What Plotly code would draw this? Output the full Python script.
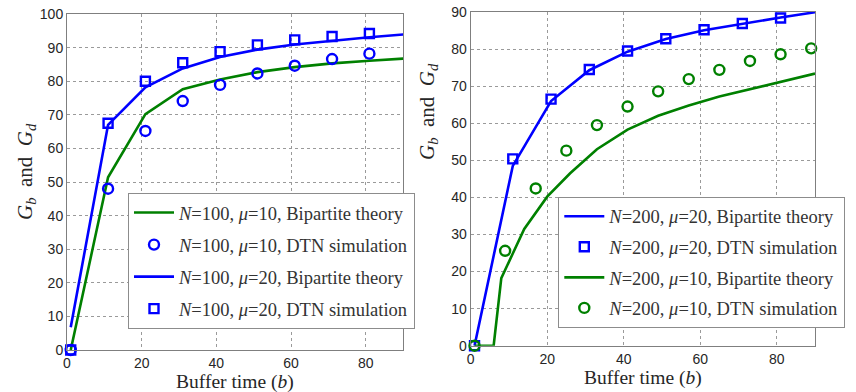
import plotly.graph_objects as go

# ---------------- data ----------------
# Left panel (N=100)
L_theory_x = [1, 11, 21, 31, 41, 51, 61, 71, 81, 91]
L_mu10_theory = [0, 51.4, 70.2, 77.6, 80.5, 82.7, 84.2, 85.3, 86.1, 86.8]
L_mu20_theory = [6.8, 67.0, 78.2, 83.8, 87.2, 89.4, 90.9, 92.1, 93.1, 94.0]
L_sim_x = [1, 11, 21, 31, 41, 51, 61, 71, 81]
L_mu10_sim = [0, 48.0, 65.2, 74.1, 78.9, 82.3, 84.6, 86.6, 88.2]
L_mu20_sim = [0, 67.5, 80.0, 85.5, 88.8, 90.8, 92.3, 93.3, 94.2]

# Right panel (N=200)
R_mu20_theory_x = [1, 11, 21, 31, 41, 51, 61, 71, 81, 91]
R_mu20_theory = [0, 48.5, 66.0, 74.3, 79.3, 82.7, 85.1, 86.9, 88.5, 90.1]
R_mu20_sim_x = [1, 11, 21, 31, 41, 51, 61, 71, 81]
R_mu20_sim = [0, 50.4, 66.5, 74.5, 79.5, 82.8, 85.2, 86.9, 88.4]
R_mu10_theory_x = [1, 6, 8, 10, 14, 20, 26, 33, 41, 49, 57, 65, 73, 81, 90]
R_mu10_theory = [0, 0, 18.2, 22.5, 31.5, 40.2, 46.5, 53.0, 58.3, 62.0, 64.8, 67.2, 69.2, 71.3, 73.4]
R_mu10_sim_x = [1, 9, 17, 25, 33, 41, 49, 57, 65, 73, 81, 89]
R_mu10_sim = [0, 25.6, 42.4, 52.6, 59.5, 64.5, 68.6, 71.9, 74.4, 76.8, 78.6, 80.2]

x_ticks = [0, 20, 40, 60, 80]
L_y_ticks = list(range(0, 101, 10))
R_y_ticks = list(range(0, 91, 10))

BLUE = "#0000ff"
GREEN = "#008000"
W, H = 856, 392

fig = go.Figure()

def lab(n, mu, kind):
    return f"<i>N</i>={n}, <i>μ</i>={mu}, {kind}"

# left traces
fig.add_trace(go.Scatter(x=L_theory_x, y=L_mu10_theory, mode="lines",
    line=dict(color=GREEN, width=2.6), name=lab(100, 10, "Bipartite theory"),
    xaxis="x", yaxis="y", legend="legend", legendgroup="a"))
fig.add_trace(go.Scatter(x=L_sim_x, y=L_mu10_sim, mode="markers",
    marker=dict(symbol="circle-open", size=10, color=BLUE, line=dict(width=2.4)),
    name=lab(100, 10, "DTN simulation"), cliponaxis=False,
    xaxis="x", yaxis="y", legend="legend", legendgroup="b"))
fig.add_trace(go.Scatter(x=L_theory_x, y=L_mu20_theory, mode="lines",
    line=dict(color=BLUE, width=2.6), name=lab(100, 20, "Bipartite theory"),
    xaxis="x", yaxis="y", legend="legend", legendgroup="c"))
fig.add_trace(go.Scatter(x=L_sim_x, y=L_mu20_sim, mode="markers",
    marker=dict(symbol="square-open", size=9, color=BLUE, line=dict(width=2.4)),
    name=lab(100, 20, "DTN simulation"), cliponaxis=False,
    xaxis="x", yaxis="y", legend="legend", legendgroup="d"))

# right traces
fig.add_trace(go.Scatter(x=R_mu20_theory_x, y=R_mu20_theory, mode="lines",
    line=dict(color=BLUE, width=2.6), name=lab(200, 20, "Bipartite theory"),
    xaxis="x2", yaxis="y2", legend="legend2", legendgroup="e"))
fig.add_trace(go.Scatter(x=R_mu20_sim_x, y=R_mu20_sim, mode="markers",
    marker=dict(symbol="square-open", size=9, color=BLUE, line=dict(width=2.4)),
    name=lab(200, 20, "DTN simulation"), cliponaxis=False,
    xaxis="x2", yaxis="y2", legend="legend2", legendgroup="f"))
fig.add_trace(go.Scatter(x=R_mu10_theory_x, y=R_mu10_theory, mode="lines",
    line=dict(color=GREEN, width=2.6), name=lab(200, 10, "Bipartite theory"),
    xaxis="x2", yaxis="y2", legend="legend2", legendgroup="g"))
fig.add_trace(go.Scatter(x=R_mu10_sim_x, y=R_mu10_sim, mode="markers",
    marker=dict(symbol="circle-open", size=10, color=GREEN, line=dict(width=2.4)),
    name=lab(200, 10, "DTN simulation"), cliponaxis=False,
    xaxis="x2", yaxis="y2", legend="legend2", legendgroup="h"))

tick_font = dict(family="Liberation Sans, Arial, sans-serif", size=14, color="#262626")
serif = "Liberation Serif, Times New Roman, serif"

def ax(domain, tickvals, rng, anchor):
    return dict(domain=domain, range=rng, tickvals=tickvals, anchor=anchor,
                showline=True, mirror=True, linecolor="#7f7f7f", linewidth=1,
                showgrid=True, gridcolor="#9a9a9a", griddash="dot", gridwidth=1,
                zeroline=False, ticks="", tickfont=tick_font, fixedrange=True,
                automargin=False)

def leg(x, y, gap):
    return dict(x=x, y=y, font=dict(family=serif, size=18.5, color="#333333"),
                bgcolor="white", bordercolor="#8c8c8c", borderwidth=1,
                xanchor="left", yanchor="top", tracegroupgap=gap,
                itemwidth=40)

fig.update_layout(
    width=W, height=H, margin=dict(l=0, r=0, t=0, b=0, autoexpand=False),
    paper_bgcolor="white", plot_bgcolor="white",
    xaxis=ax([67 / W, 403 / W], x_ticks, [0, 90], "y"),
    yaxis=ax([(H - 350) / H, (H - 14) / H], L_y_ticks, [0, 100], "x"),
    xaxis2=ax([470.7 / W, 815 / W], x_ticks, [0, 90], "y2"),
    yaxis2=ax([(H - 345.7) / H, (H - 12) / H], R_y_ticks, [0, 90], "x2"),
    legend=leg(128 / W, (H - 193) / H, 5),
    legend2=leg(558.3 / W, (H - 196.7) / H, 3.5),
    showlegend=True,
)

xt_font = dict(family=serif, size=19.5, color="#262626")
yt_font = dict(family=serif, size=21, color="#262626")
ytitle = "<i>G</i><sub><i>b</i></sub>&nbsp; and &nbsp;<i>G</i><sub><i>d</i></sub>"
xtitle = "Buffer time (<i>b</i>)"
annots = [
    dict(x=235 / W, y=(H - 381.5) / H, text=xtitle, font=xt_font),
    dict(x=643 / W, y=(H - 377.5) / H, text=xtitle, font=xt_font),
    dict(x=26 / W, y=(H - 172) / H, text=ytitle, textangle=-90, font=yt_font),
    dict(x=428 / W, y=(H - 112) / H, text=ytitle, textangle=-90, font=yt_font),
]
for a in annots:
    fig.add_annotation(xref="paper", yref="paper", showarrow=False, borderpad=0,
                       xanchor="center", yanchor="middle", **a)

fig.write_html("out.html", config={"displayModeBar": False},
               post_script="document.body.style.margin='0';document.body.style.padding='0';")
